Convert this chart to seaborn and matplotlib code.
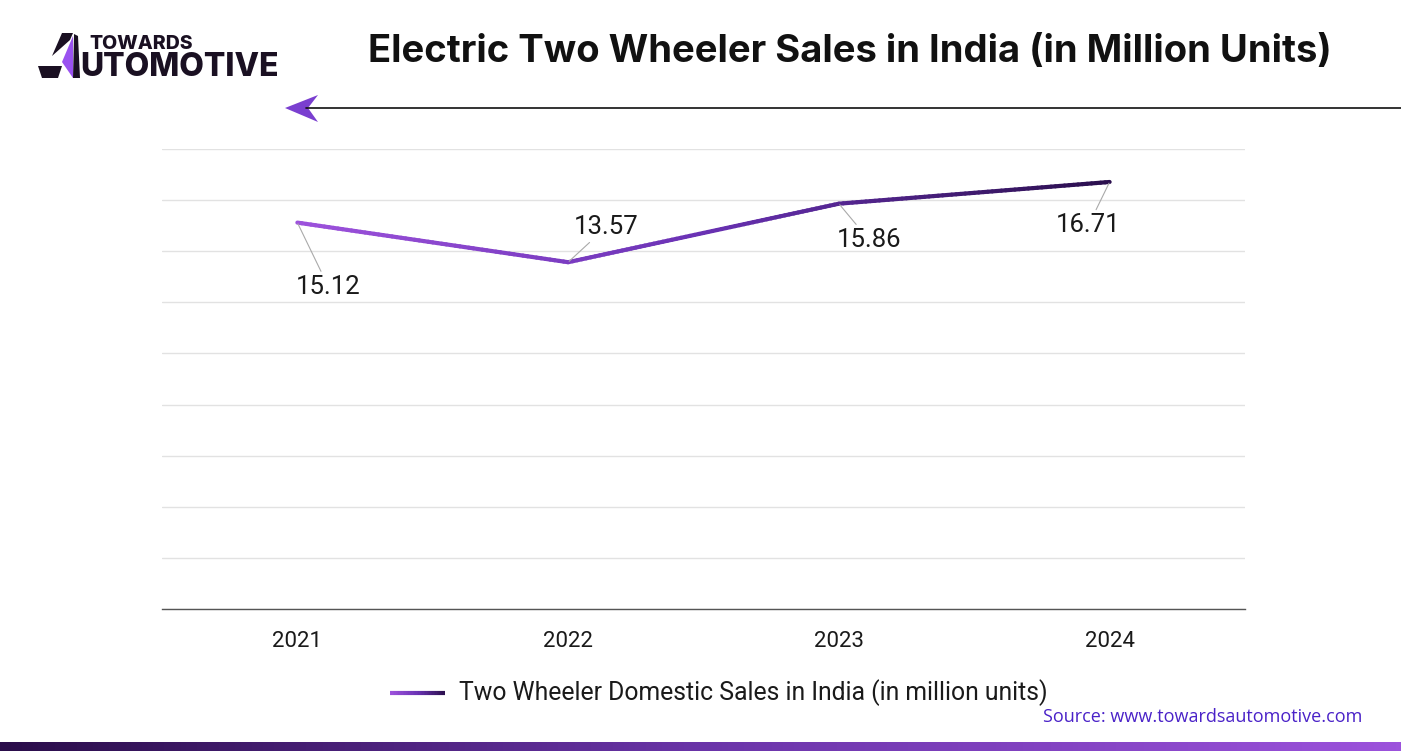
import numpy as np
import pandas as pd
import matplotlib
matplotlib.use("Agg")
import matplotlib.pyplot as plt
import seaborn as sns
from matplotlib.collections import LineCollection
from matplotlib.colors import LinearSegmentedColormap
from matplotlib.patches import Polygon
from matplotlib.lines import Line2D

years = ["2021", "2022", "2023", "2024"]
sales = [15.12, 13.57, 15.86, 16.71]
label_texts = ["15.12", "13.57", "15.86", "16.71"]
title = "Electric Two Wheeler Sales in India (in Million Units)"
legend_label = "Two Wheeler Domestic Sales in India (in million units)"
source = "Source: www.towardsautomotive.com"

sns.set_theme(style="white")
plt.rcParams["font.family"] = ["Roboto", "DejaVu Sans"]

W, H = 1401, 751
fig = plt.figure(figsize=(W / 100, H / 100), dpi=100)

def fx(px):
    return px / W

def fy(py):
    return 1 - py / H

ax = fig.add_axes([fx(162), fy(609), fx(1245) - fx(162), fy(149) - fy(609)])
df = pd.DataFrame({"year": years, "sales": sales})
sns.lineplot(data=df, x="year", y="sales", ax=ax, sort=False, lw=3, color="#9b4fd9")

cmap = LinearSegmentedColormap.from_list("pg", ["#9d52dc", "#6a32b4", "#2b0f4e"])

# gradient line built from seaborn's line path
line = ax.lines[0]
xy = line.get_xydata()
dense = []
for i in range(len(xy) - 1):
    t = np.linspace(0, 1, 60, endpoint=False)
    seg = xy[i] + (xy[i + 1] - xy[i]) * t[:, None]
    dense.append(seg)
dense.append(xy[-1:])
dense = np.vstack(dense)
segs = np.stack([dense[:-1], dense[1:]], axis=1)
lc = LineCollection(segs, cmap=cmap, linewidths=3, capstyle="round", zorder=3)
lc.set_array(np.linspace(0, 1, len(segs)))
ax.add_collection(lc)
line.set_visible(False)

ax.set_ylim(0, 18)
ax.set_xlim(-0.5, 3.5)
ax.set_yticks(np.arange(0, 19, 2))
ax.set_yticklabels([])
ax.yaxis.grid(True, color="#e2e2e2", lw=1)
ax.xaxis.grid(False)
for s in ["left", "right", "top"]:
    ax.spines[s].set_visible(False)
ax.spines["bottom"].set_color("#555555")
ax.spines["bottom"].set_linewidth(1)
ax.set_xlabel("")
ax.set_ylabel("")
ax.tick_params(axis="x", length=0, pad=16, labelsize=16, labelcolor="#1a1a1a")
ax.tick_params(axis="y", length=0)

offsets = [(31, -64), (38, 35), (30, -36), (-21, -43)]
for i, (txt, off) in enumerate(zip(label_texts, offsets)):
    ax.annotate(txt, xy=(i, sales[i]), xytext=off, textcoords="offset pixels",
                ha="center", va="center", fontsize=18.5, color="#1a1a1a",
                arrowprops=dict(arrowstyle="-", color="#aaaaaa", lw=0.8,
                                shrinkA=0, shrinkB=1))

# title
fig.text(fx(850), fy(52), title, ha="center", va="center", fontsize=27.5,
         fontweight="bold", color="#111111", family=["Inter", "DejaVu Sans"])

# header arrow line
fig.add_artist(Line2D([fx(306), fx(1401)], [fy(108), fy(108)], color="#111111", lw=1.2))
fig.add_artist(Polygon([[fx(285), fy(108)], [fx(318), fy(95)], [fx(308), fy(108)], [fx(318), fy(122)]],
                       closed=True, facecolor="#7a3fd0", edgecolor="none",
                       transform=fig.transFigure))

# logo
dark = "#1a1022"
purple = "#9a52f0"
logo_polys = [
    ([(52, 56), (62, 33), (73, 33), (70, 40)], dark),
    ([(73, 36), (62, 62), (73, 78)], purple),
    ([(74, 34), (78, 36), (80, 78), (73, 78)], dark),
    ([(38, 66), (62, 66), (58, 78), (42, 78)], dark),
]
for pts, c in logo_polys:
    fig.add_artist(Polygon([[fx(a), fy(b)] for a, b in pts], closed=True, facecolor=c,
                           edgecolor="none", transform=fig.transFigure))
fig.text(fx(89), fy(44), "TOWARDS", ha="left", va="center", fontsize=14,
         fontweight="heavy", color=dark, family=["Inter", "DejaVu Sans"])
fig.text(fx(80), fy(67), "UTOMOTIVE", ha="left", va="center", fontsize=23,
         fontweight="heavy", color=dark, family=["Inter", "DejaVu Sans"])

# legend (gradient line + text)
lx = np.linspace(390, 445, 40)
lsegs = [[[fx(lx[i]), fy(693)], [fx(lx[i + 1]), fy(693)]] for i in range(len(lx) - 1)]
llc = LineCollection(lsegs, cmap=cmap, linewidths=3, transform=fig.transFigure)
llc.set_array(np.linspace(0, 1, len(lsegs)))
fig.add_artist(llc)
fig.text(fx(459), fy(693), legend_label, ha="left", va="center", fontsize=17.8, color="#1a1a1a")

# source
fig.text(fx(1362), fy(717), source, ha="right", va="center", fontsize=13,
         color="#4a22c8", family=["Open Sans", "DejaVu Sans"])

# bottom bar
bax = fig.add_axes([0, 0, 1, 9 / H])
bcmap = LinearSegmentedColormap.from_list("bar", ["#2a0d4a", "#6a34a8", "#9c52dc"])
bax.imshow(np.linspace(0, 1, 256)[None, :], aspect="auto", cmap=bcmap, extent=[0, 1, 0, 1])
bax.axis("off")

fig.savefig("out.png", dpi=100)
